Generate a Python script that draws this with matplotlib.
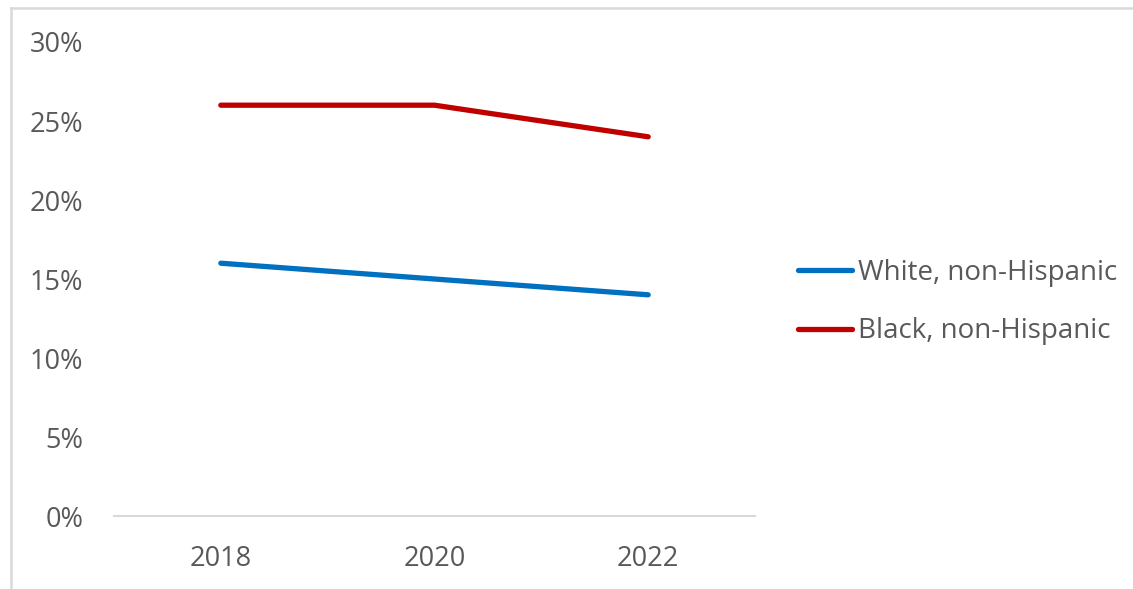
import matplotlib.pyplot as plt
from matplotlib.lines import Line2D
from matplotlib.ticker import FuncFormatter

years = ["2018", "2020", "2022"]
white = [16, 15, 14]
black = [26, 26, 24]
labels = ["White, non-Hispanic", "Black, non-Hispanic"]

plt.rcParams['font.family'] = ['Open Sans', 'DejaVu Sans']
txt = '#595959'
grey = '#d9d9d9'

fig = plt.figure(figsize=(11.33, 5.89), dpi=100)
ax = fig.add_axes([0.1006, 0.1239, 0.5658, 0.8048])

x = range(len(years))
ax.plot(x, white, color='#0070C0', lw=3.8, solid_capstyle='round', label=labels[0])
ax.plot(x, black, color='#C00000', lw=3.8, solid_capstyle='round', label=labels[1])

ax.set_xlim(-0.5, len(years) - 0.5)
ax.set_ylim(0, 30)
ax.set_xticks(list(x))
ax.set_xticklabels(years)
ax.set_yticks(range(0, 31, 5))
ax.yaxis.set_major_formatter(FuncFormatter(lambda v, p: f"{v:.0f}%"))
ax.tick_params(axis='both', length=0, labelsize=19.5, labelcolor=txt)
ax.tick_params(axis='x', pad=21)
ax.tick_params(axis='y', pad=22)

for s in ['top', 'right', 'left']:
    ax.spines[s].set_visible(False)
ax.spines['bottom'].set_color(grey)
ax.spines['bottom'].set_linewidth(1.5)

leg = ax.legend(loc='center left', bbox_to_anchor=(798 / 1133, 1 - 302 / 589),
                bbox_transform=fig.transFigure, frameon=False, fontsize=20,
                handlelength=1.95, handletextpad=0.2, labelspacing=1.1,
                borderpad=0, borderaxespad=0)
for t in leg.get_texts():
    t.set_color(txt)

# chart frame (only top and left edges are visible in the crop)
fig.add_artist(Line2D([11 / 1133, 11 / 1133], [0, 1 - 8 / 589], transform=fig.transFigure,
                      color=grey, lw=1.8))
fig.add_artist(Line2D([11 / 1133, 1], [1 - 8 / 589, 1 - 8 / 589], transform=fig.transFigure,
                      color=grey, lw=1.8))

fig.savefig('out.png', dpi=100)
